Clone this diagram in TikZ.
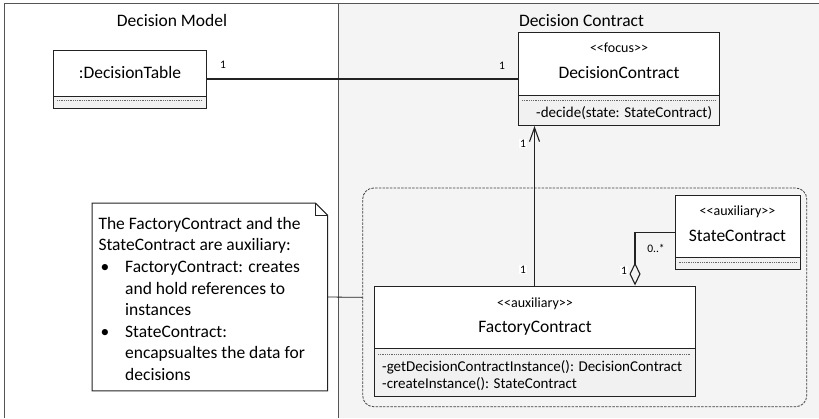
\documentclass[tikz,border=0pt]{standalone}
\usepackage{fontspec}
\setmainfont{Carlito}
\usetikzlibrary{arrows.meta}
\definecolor{pane}{HTML}{F4F4F4}
\definecolor{frameln}{HTML}{555555}
\definecolor{compart}{HTML}{F1F1F1}
\definecolor{ink}{HTML}{222222}
\tikzset{
  frameline/.style={draw=frameln, line width=1.4pt},
  boxline/.style={draw=ink, line width=1pt},
  classbox/.style={boxline, fill=compart, inner sep=0pt},
  dotline/.style={draw=black!60, line width=0.6pt, dash pattern=on 0.9pt off 0.9pt},
  conn/.style={draw=ink, line width=1.1pt},
  title/.style={font=\fontsize{17.5}{20}\selectfont, inner sep=0pt, anchor=base},
  cname/.style={font=\fontsize{17.5}{20}\selectfont, inner sep=0pt, anchor=base},
  stereo/.style={font=\fontsize{14}{16}\selectfont, inner sep=0pt, anchor=base},
  meth/.style={font=\fontsize{15}{17}\selectfont, inner sep=0pt, anchor=base west},
  mult/.style={font=\fontsize{11.5}{13}\selectfont, inner sep=1pt, anchor=base},
  multbg/.style={mult, fill=white},
}
% stereotype brackets kept as plain angle pairs
\newcommand{\stlt}{<{}<}
\newcommand{\stgt}{>{}>}
\begin{document}
\begin{tikzpicture}[x=1pt, y=-1pt]
\useasboundingbox (0,0) rectangle (819,418);

% panes
\fill[pane] (338.5,3.5) rectangle (819,418);
\draw[frameline] (4.7,418) -- (4.7,3.5) -- (819,3.5);
\draw[frameline, line width=1.1pt] (338.5,3.5) -- (338.5,418);
\node[title] (tmodel) at (172,26.6) {Decision Model};
\node[title] (tcontract) at (581.5,26.6) {Decision Contract};

% auxiliary group
\node[draw=black!75, line width=0.8pt, dash pattern=on 2.5pt off 1.2pt,
      rounded corners=11pt, minimum width=444pt, minimum height=218.7pt]
      (grp) at (584.7,297.35) {};

% :DecisionTable
\node[classbox, minimum width=152.5pt, minimum height=58pt] (dt) at (129.75,79) {};
\fill[white] (54,50.5) rectangle (205.5,96);
\draw[boxline] (53.5,96) -- (206,96);
\draw[dotline] (57,100.5) -- (202.5,100.5);
\node[cname] (dtname) at (130,78.6) {:DecisionTable};

% DecisionContract
\node[classbox, minimum width=200.7pt, minimum height=93pt] (dc) at (618.65,79) {};
\fill[white] (518.8,33) rectangle (718.5,95);
\draw[boxline] (518.3,95) -- (719,95);
\draw[dotline] (522,100) -- (715,100);
\node[stereo] (dcst) at (619,52.5) {\stlt focus\stgt};
\node[cname] (dcname) at (619,78.6) {DecisionContract};
\node[meth] (dcm1) at (536,117.8) {-decide(state: StateContract)};

% StateContract
\node[classbox, minimum width=125pt, minimum height=74.3pt] (sc) at (737.5,232.15) {};
\fill[white] (675.5,195.5) rectangle (799.5,257);
\draw[boxline] (675,257) -- (800,257);
\draw[dotline] (678.5,262) -- (796.5,262);
\node[stereo] (scst) at (737.5,215.2) {\stlt auxiliary\stgt};
\node[cname] (scname) at (737.5,241.6) {StateContract};

% FactoryContract
\node[classbox, minimum width=321pt, minimum height=110pt] (fc) at (534.5,341) {};
\fill[white] (374.5,286.5) rectangle (694.5,348.3);
\draw[boxline] (374,348.3) -- (695,348.3);
\draw[dotline] (378,354.3) -- (691,354.3);
\node[stereo] (fcst) at (535,307.2) {\stlt auxiliary\stgt};
\node[cname] (fcname) at (535,332.3) {FactoryContract};
\node[meth] (fcm1) at (382,371.5) {-getDecisionContractInstance(): DecisionContract};
\node[meth] (fcm2) at (382,388.8) {-createInstance(): StateContract};

% note
\node[minimum width=235pt, minimum height=187.4pt, inner sep=0pt] (note) at (209.8,297) {};
\draw[boxline, fill=white] (note.south west) -- (note.north west)
  -- ([xshift=-12pt]note.north east) -- ([yshift=-12pt]note.north east)
  -- (note.south east) -- cycle;
\draw[boxline] ([xshift=-12pt]note.north east) |- ([yshift=-12pt]note.north east);
\node[anchor=north west, inner sep=0pt, align=left,
      font=\fontsize{17.5}{21.6}\selectfont] (notetxt) at (98.3,215)
 {\rule{0pt}{14pt}The FactoryContract and the\\
  StateContract are auxiliary:\\
  \makebox[26.7pt][l]{\hspace{2pt}\textbullet}FactoryContract: creates\\
  \hspace*{26.7pt}and hold references to\\
  \hspace*{26.7pt}instances\\
  \makebox[26.7pt][l]{\hspace{2pt}\textbullet}StateContract:\\
  \hspace*{26.7pt}encapsualtes the data for\\
  \hspace*{26.7pt}decisions};

% connectors
\draw[conn] (dt.east) -- (dc.west);
\node[mult] (m1) at (223,68) {1};
\node[mult] (m2) at (502,69) {1};

\draw[conn, -{Straight Barb[length=14pt, width=10pt, line width=1.1pt]}]
  (fc.north) -- (fc.north |- dc.south);
\node[multbg] (m3) at (523,147) {1};
\node[multbg] (m4) at (523,273) {1};

\coordinate (fcagg) at ([xshift=100.5pt]fc.north);
\draw[conn, -{Diamond[open, length=23pt, width=11pt, line width=1.1pt]}]
  (sc.west) -| (fcagg);
\node[mult] (m5) at (656,252) {0..*};
\node[multbg] (m6) at (624,274) {1};

\draw[draw=ink, line width=0.8pt] (note.east) -- (grp.west);
\end{tikzpicture}
\end{document}
